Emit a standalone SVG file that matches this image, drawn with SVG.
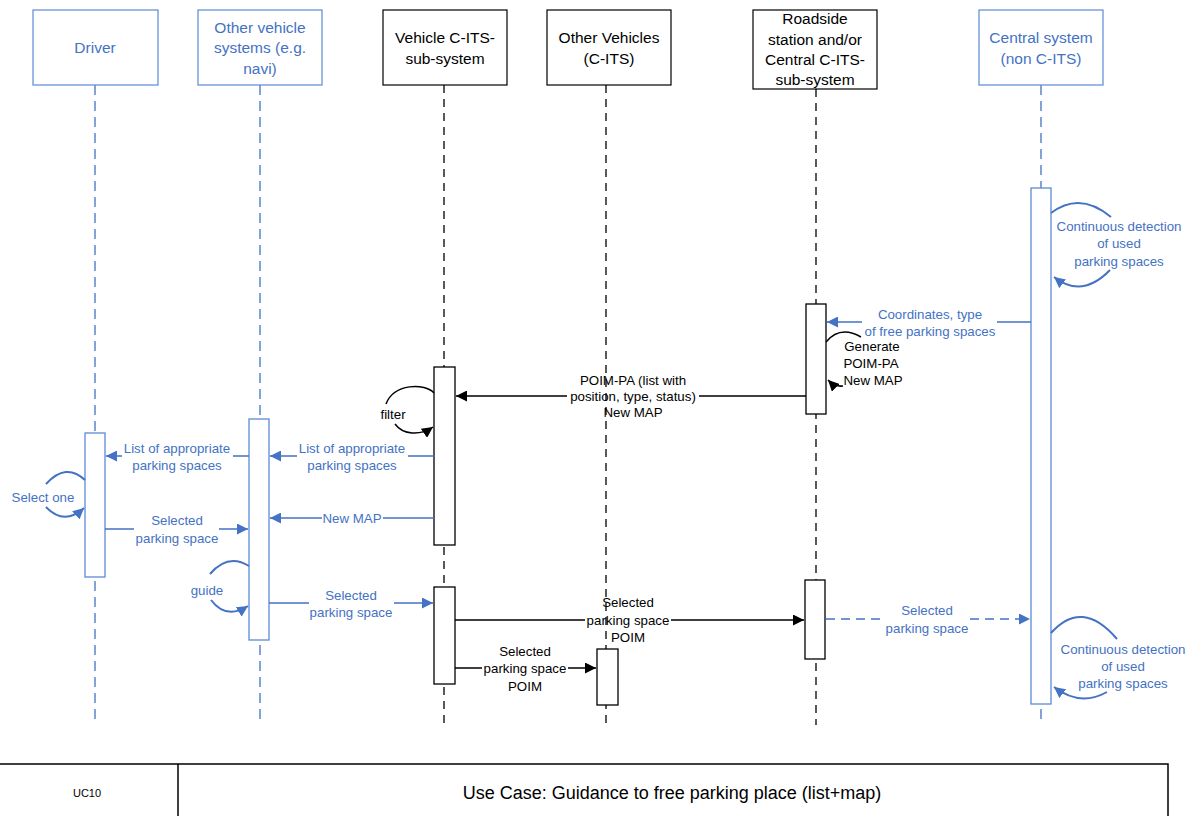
<svg xmlns="http://www.w3.org/2000/svg" width="1194" height="816" viewBox="0 0 1194 816">
<style>
text{font-family:"Liberation Sans",Arial,sans-serif;dominant-baseline:central;text-anchor:middle}
.h{font-size:15.5px}
.m{font-size:13.3px}
.bt{fill:#4472C4}
.kt{fill:#000}
.bbox{fill:#fff;stroke:#5B8BD6;stroke-width:1.2}
.kbox{fill:#fff;stroke:#000;stroke-width:1.2}
.bl{stroke:#4472C4;stroke-width:1.3;stroke-dasharray:10 6;fill:none}
.kl{stroke:#000;stroke-width:1.3;stroke-dasharray:8 6;fill:none}
.bact{fill:#fff;stroke:#5B8BD6;stroke-width:1.3}
.kact{fill:#fff;stroke:#000;stroke-width:1.3}
.bm{stroke:#4472C4;stroke-width:1.5;fill:none}
.km{stroke:#000;stroke-width:1.5;fill:none}
.bloop{stroke:#4472C4;stroke-width:2;fill:none}
.kloop{stroke:#000;stroke-width:1.5;fill:none}
</style>
<defs>
<marker id="ab" viewBox="0 0 10 10" refX="10" refY="5" markerWidth="11" markerHeight="11" markerUnits="userSpaceOnUse" orient="auto"><path d="M0,0 L10,5 L0,10 z" fill="#4472C4"/></marker>
<marker id="ak" viewBox="0 0 10 10" refX="10" refY="5" markerWidth="11" markerHeight="11" markerUnits="userSpaceOnUse" orient="auto"><path d="M0,0 L10,5 L0,10 z" fill="#000"/></marker>
</defs>
<rect width="1194" height="816" fill="#fff"/>

<g id="driver">
<line class="bl" x1="95" y1="85" x2="95" y2="725"/>
<rect class="bbox" x="33" y="10" width="125" height="75"/>
<text class="h bt" x="95" y="47">Driver</text>
<rect class="bact" x="85" y="433" width="20" height="144"/>
</g>

<g id="other-vehicle-systems">
<line class="bl" x1="260" y1="85" x2="260" y2="725"/>
<rect class="bbox" x="198" y="10" width="124" height="75"/>
<text class="h bt" x="260" y="27">Other vehicle</text>
<text class="h bt" x="260" y="47">systems (e.g.</text>
<text class="h bt" x="260" y="68">navi)</text>
<rect class="bact" x="249" y="419" width="20" height="221"/>
</g>

<g id="vehicle-cits">
<line class="kl" x1="444" y1="85" x2="444" y2="725"/>
<rect class="kbox" x="383" y="10" width="124" height="75"/>
<text class="h kt" x="445" y="37">Vehicle C-ITS-</text>
<text class="h kt" x="445" y="58">sub-system</text>
<rect class="kact" x="434" y="367" width="21" height="178"/>
<rect class="kact" x="434" y="587" width="21" height="97"/>
</g>

<g id="other-vehicles">
<line class="kl" x1="606" y1="85" x2="606" y2="725"/>
<rect class="kbox" x="547" y="10" width="124" height="75"/>
<text class="h kt" x="609" y="37">Other Vehicles</text>
<text class="h kt" x="609" y="58">(C-ITS)</text>
<rect class="kact" x="597" y="649" width="21" height="56"/>
</g>

<g id="roadside">
<line class="kl" x1="816" y1="89" x2="816" y2="725"/>
<rect class="kbox" x="753" y="10" width="124" height="79"/>
<text class="h kt" x="815" y="18">Roadside</text>
<text class="h kt" x="815" y="39">station and/or</text>
<text class="h kt" x="815" y="59">Central C-ITS-</text>
<text class="h kt" x="815" y="79">sub-system</text>
<rect class="kact" x="806" y="304" width="20" height="110"/>
<rect class="kact" x="805" y="580" width="20" height="79"/>
</g>

<g id="central-system">
<line class="bl" x1="1041" y1="85" x2="1041" y2="725"/>
<rect class="bbox" x="979" y="10" width="124" height="75"/>
<text class="h bt" x="1041" y="37">Central system</text>
<text class="h bt" x="1041" y="58">(non C-ITS)</text>
<rect class="bact" x="1031" y="188" width="20" height="516"/>
</g>

<g id="connectors">
<path class="bloop" d="M1051,213 Q1080,191 1111,217"/>
<path class="bloop" d="M1110,270 Q1082,299 1054,277" marker-end="url(#ab)"/>
<text class="m bt" x="1119" y="226">Continuous detection</text>
<text class="m bt" x="1119" y="243">of used</text>
<text class="m bt" x="1119" y="261">parking spaces</text>

<path class="bm" d="M1031,322 H997 M862,322 H827" marker-end="url(#ab)"/>
<text class="m bt" x="930" y="314">Coordinates, type</text>
<text class="m bt" x="930" y="331">of free parking spaces</text>

<path class="kloop" d="M826,342 Q840,325 861,337"/>
<path class="kloop" d="M843,386 Q835,387 828,380" marker-end="url(#ak)"/>
<text class="m kt" x="872" y="346">Generate</text>
<text class="m kt" x="871" y="363">POIM-PA</text>
<text class="m kt" x="873" y="380">New MAP</text>

<path class="km" d="M806,396 H699 M567,396 H456" marker-end="url(#ak)"/>
<text class="m kt" x="633" y="380">POIM-PA (list with</text>
<text class="m kt" x="633" y="396">position, type, status)</text>
<text class="m kt" x="633" y="412">New MAP</text>

<path class="kloop" d="M434,393 C425,383 394,383 386,404"/>
<path class="kloop" d="M395,424 C403,435 420,436 433,427" marker-end="url(#ak)"/>
<text class="m kt" x="393" y="414">filter</text>

<path class="bm" d="M434,456 H408 M297,456 H270" marker-end="url(#ab)"/>
<text class="m bt" x="352" y="448">List of appropriate</text>
<text class="m bt" x="352" y="465">parking spaces</text>

<path class="bm" d="M249,456 H233 M122,456 H106" marker-end="url(#ab)"/>
<text class="m bt" x="177" y="448">List of appropriate</text>
<text class="m bt" x="177" y="465">parking spaces</text>

<path class="bloop" d="M85,480 Q66,462 46,484"/>
<path class="bloop" d="M46,507 Q64,526 84,508" marker-end="url(#ab)"/>
<text class="m bt" x="43" y="497">Select one</text>

<path class="bm" d="M434,518 H383 M322,518 H270" marker-end="url(#ab)"/>
<text class="m bt" x="352" y="518">New MAP</text>

<path class="bm" d="M105,529 H134 M219,529 H248" marker-end="url(#ab)"/>
<text class="m bt" x="177" y="520">Selected</text>
<text class="m bt" x="177" y="538">parking space</text>

<path class="bloop" d="M249,566 Q228,553 210,574"/>
<path class="bloop" d="M211,600 Q226,620 248,606" marker-end="url(#ab)"/>
<text class="m bt" x="207" y="590">guide</text>

<path class="bm" d="M269,603 H309 M394,603 H433" marker-end="url(#ab)"/>
<text class="m bt" x="351" y="595">Selected</text>
<text class="m bt" x="351" y="612">parking space</text>

<path class="km" d="M455,620 H585 M671,620 H804" marker-end="url(#ak)"/>
<text class="m kt" x="628" y="602">Selected</text>
<text class="m kt" x="628" y="620">parking space</text>
<text class="m kt" x="628" y="637">POIM</text>

<path class="km" d="M455,668 H482 M568,668 H596" marker-end="url(#ak)"/>
<text class="m kt" x="525" y="651">Selected</text>
<text class="m kt" x="525" y="668">parking space</text>
<text class="m kt" x="525" y="686">POIM</text>

<path class="bm" d="M826,619 H882 M970,619 H1030" stroke-dasharray="9 6" marker-end="url(#ab)"/>
<text class="m bt" x="927" y="610">Selected</text>
<text class="m bt" x="927" y="628">parking space</text>

<path class="bloop" d="M1051,633 Q1082,598 1117,639"/>
<path class="bloop" d="M1107,692 Q1080,707 1054,687" marker-end="url(#ab)"/>
<text class="m bt" x="1123" y="649">Continuous detection</text>
<text class="m bt" x="1123" y="666">of used</text>
<text class="m bt" x="1123" y="683">parking spaces</text>
</g>

<g id="caption-table">
<path d="M0,764 H1168 V816 M178,764 V816" fill="none" stroke="#000" stroke-width="1.5"/>
<text x="87" y="793" style="font-size:11px">UC10</text>
<text x="672" y="793" style="font-size:18px">Use Case: Guidance to free parking place (list+map)</text>
</g>
</svg>
